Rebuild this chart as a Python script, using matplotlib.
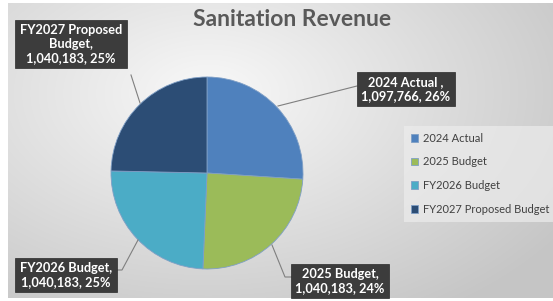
import numpy as np
import matplotlib
matplotlib.use("Agg")
import matplotlib.pyplot as plt
from matplotlib.lines import Line2D

# chart data
categories = ["2024 Actual", "2025 Budget", "FY2026 Budget", "FY2027 Proposed Budget"]
values = [1097766, 1040183, 1040183, 1040183]
pct_labels = [26, 24, 25, 25]
label_names = ["2024 Actual ,", "2025 Budget,", "FY2026 Budget,", "FY2027 Proposed\nBudget,"]
colors = ["#4F81BD", "#9BBB59", "#4BACC6", "#2C4D75"]

plt.rcParams["font.family"] = ["Lato", "DejaVu Sans"]

W, H = 553, 301
fig = plt.figure(figsize=(W / 100, H / 100), dpi=100)
fig.patch.set_facecolor("white")


def fx(x):
    return x / W


def fy(y):
    return 1 - y / H


# gradient background of the chart area
bg = fig.add_axes([fx(8), fy(298), fx(545), (295) / H])
yy, xx = np.mgrid[0:295, 0:545]
d = np.sqrt(((xx - 200) / 420.0) ** 2 + ((yy - 90) / 260.0) ** 2)
d = np.clip(d, 0, 1)
shade = 0.975 - 0.2 * d
bg.imshow(np.dstack([shade] * 3), aspect="auto", extent=[0, 1, 0, 1])
bg.axis("off")

# pie
cx, cy, r = 207, 173, 96
ax = fig.add_axes([fx(cx - r), fy(cy + r), 2 * r / W, 2 * r / H])
wedges, _ = ax.pie(values, colors=colors, startangle=90, counterclock=False,
                   wedgeprops=dict(linewidth=0.6, edgecolor="#7f9fc6"))
ax.set_xlim(-1, 1)
ax.set_ylim(-1, 1)
ax.axis("off")

fig.text(fx(292), fy(20), "Sanitation Revenue", ha="center", va="center",
         fontsize=16.5, fontweight="bold", color="#595959")

# data label boxes (centre x, centre y in pixels)
box_pos = [(406, 89), (340, 281), (66, 275), (71, 44)]
for i, (bx, by) in enumerate(box_pos):
    txt = f"{label_names[i]}\n{values[i]:,}, {pct_labels[i]}%"
    fig.text(fx(bx), fy(by), txt, ha="center", va="center", fontsize=9.2,
             fontweight="bold", color="white", linespacing=1.2,
             bbox=dict(boxstyle="square,pad=0.35", facecolor="#3c3c3c",
                       edgecolor="#2a2a2a", linewidth=0.5))

# leader lines
leaders = [
    [(278, 106), (357, 86)],
    [(272, 245), (285, 277), (292, 277)],
    [(138, 240), (122, 270), (117, 270)],
    [(140, 103), (131, 75)],
]
for pts in leaders:
    xs = [fx(p[0]) for p in pts]
    ys = [fy(p[1]) for p in pts]
    fig.add_artist(Line2D(xs, ys, color="#7f7f7f", linewidth=0.8))

leg = fig.legend(wedges, categories, loc="upper left",
                 bbox_to_anchor=(fx(404), fy(126)), fontsize=8,
                 frameon=True, fancybox=False, handlelength=0.7,
                 handleheight=0.7, handletextpad=0.4, labelspacing=1.15,
                 borderpad=0.6, borderaxespad=0)
leg.get_frame().set_facecolor("#ececec")
leg.get_frame().set_edgecolor("none")
leg.get_frame().set_alpha(0.7)
for t in leg.get_texts():
    t.set_color("#404040")

fig.savefig("out.png", dpi=100)
